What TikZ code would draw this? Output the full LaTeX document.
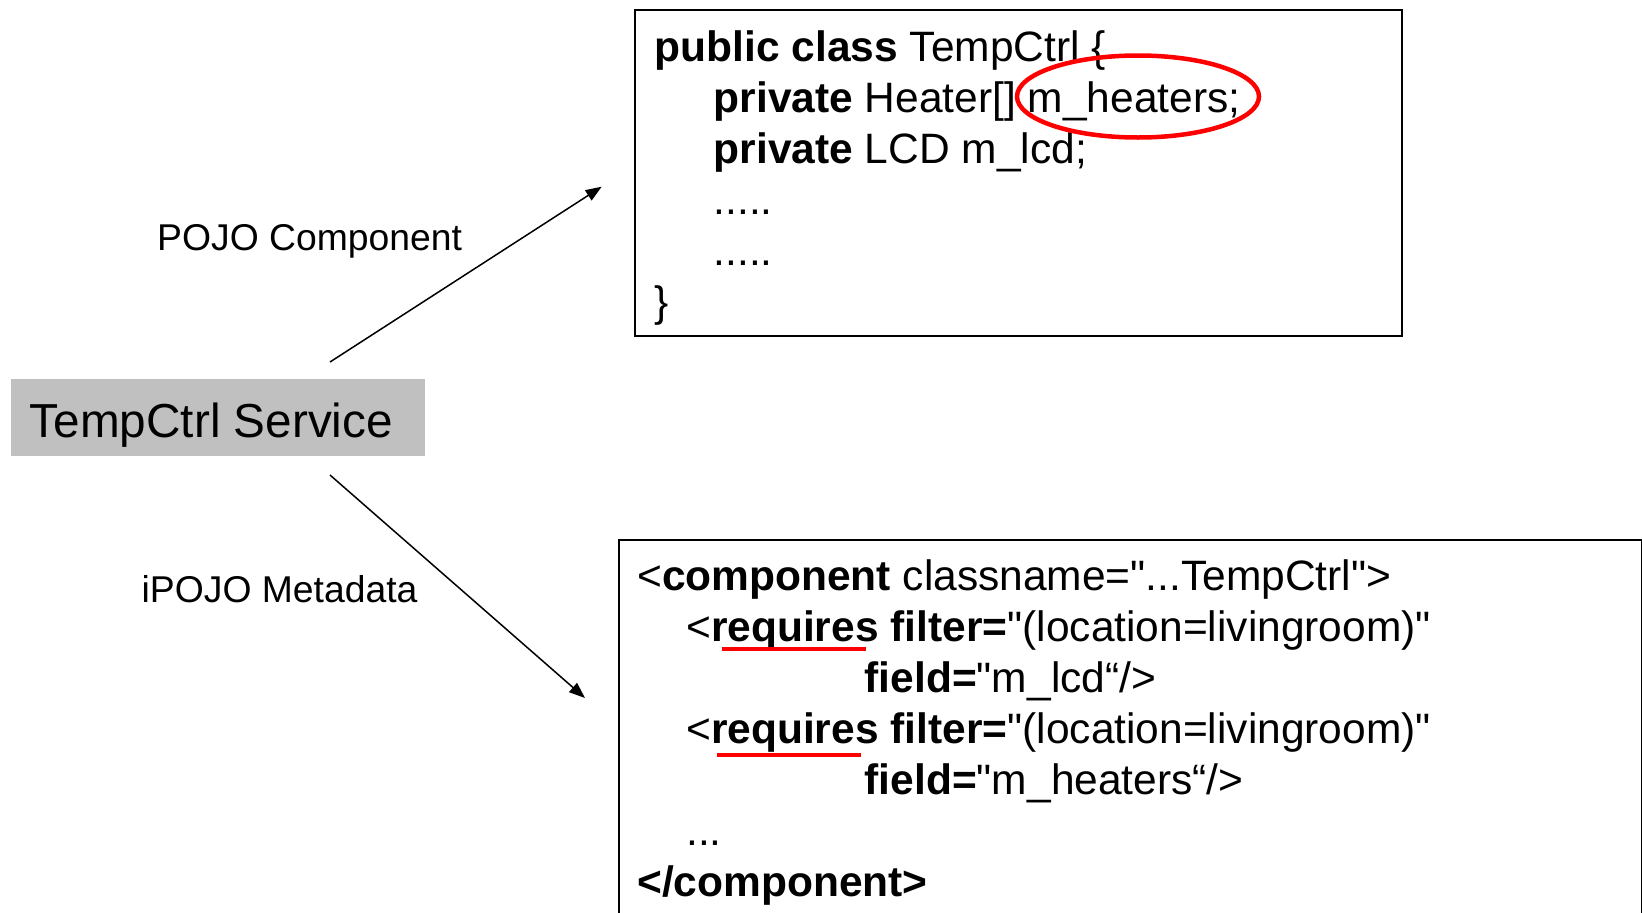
\documentclass[tikz,border=0pt]{standalone}
\usepackage{fontspec}
% no TeX ligature mapping, so " stays a straight double quote
\setmainfont{Liberation Sans}[Ligatures=TeXOff]
\usetikzlibrary{arrows.meta}
\definecolor{svcgray}{RGB}{192,192,192}
\begin{document}
\begin{tikzpicture}[x=1pt,y=-1pt,
  framebox/.style={draw=black, line width=2pt, inner sep=0pt, anchor=north west},
  codeline/.style={anchor=base west, inner sep=0pt, font=\fontsize{42.5}{51}\selectfont},
  caption/.style={anchor=base west, inner sep=0pt, font=\fontsize{37.3}{45}\selectfont},
  link/.style={line width=1.5pt, -{Triangle[length=16pt,width=12pt]}},
  highlight/.style={draw=red, line width=4.5pt}]

\useasboundingbox (0,0) rectangle (1642,913);

% service box
\node[fill=svcgray, inner sep=0pt, anchor=north west,
      minimum width=414.5pt, minimum height=76.5pt] (svc) at (10.5,379) {};
\node[anchor=base west, inner sep=0pt, font=\fontsize{47.7}{57}\selectfont]
      (svctext) at (29.6,437) {TempCtrl Service};

% Java class box
\node[framebox, minimum width=767pt, minimum height=325.7pt] (pojo) at (634,9.3) {};
\node[codeline] (j1) at (654.6,61)  {\textbf{public class} TempCtrl \{};
\node[codeline] (j2) at (713.5,112) {\textbf{private} Heater[] m\_heaters;};
\node[codeline] (j3) at (713.5,163) {\textbf{private} LCD m\_lcd;};
\node[codeline] (j4) at (713.5,214) {.....};
\node[codeline] (j5) at (713.5,265) {.....};
\node[codeline] (j6) at (654.6,316) {\}};

% metadata box
\node[framebox, minimum width=1023pt, minimum height=400pt] (meta) at (618,539) {};
\node[codeline] (x1) at (637,590) {<\textbf{component} classname="...TempCtrl">};
\node[codeline] (x2) at (686,641) {<\textbf{requires filter=}"(location=livingroom)"};
\node[codeline] (x3) at (864.5,692) {\textbf{field=}"m\_lcd“/>};
\node[codeline] (x4) at (686,743) {<\textbf{requires filter=}"(location=livingroom)"};
\node[codeline] (x5) at (864.5,794) {\textbf{field=}"m\_heaters“/>};
\node[codeline] (x6) at (686,845) {...};
\node[codeline] (x7) at (637,896) {\textbf{</component>}};

% highlights
\draw[highlight] (1138,96.5) ellipse [x radius=121, y radius=41];
\draw[highlight] (722,649) -- (866,649);
\draw[highlight] (717,755) -- (861,755);

% connectors
\coordinate (up0) at (330,362);
\coordinate (up1) at (601.7,186.7);
\coordinate (dn0) at (330,475);
\coordinate (dn1) at (585,698);
\draw[link] (up0) -- (up1);
\draw[link] (dn0) -- (dn1);

\node[caption] (lpojo) at (157,250) {POJO Component};
\node[caption] (lmeta) at (141.5,602) {iPOJO Metadata};
\end{tikzpicture}
\end{document}
